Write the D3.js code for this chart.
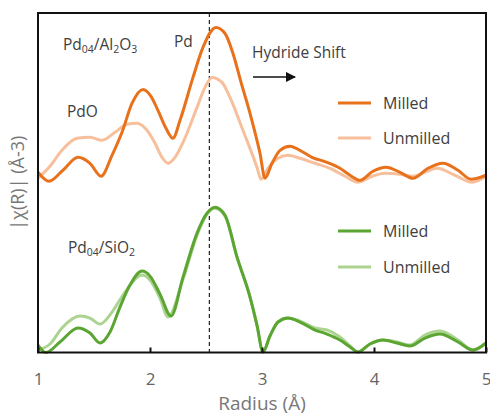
<!DOCTYPE html>
<html><head><meta charset="utf-8">
<script src="https://cdn.jsdelivr.net/npm/d3@7"></script>
<style>body{margin:0;background:#fff}svg{display:block}text{font-family:"Open Sans","Noto Sans",sans-serif}</style>
</head><body>
<svg id="c" width="490" height="415"></svg>
<script>
// Radius (Å) and |χ(R)| (arbitrary units)
const alMilledR = [1.000,1.098,1.223,1.357,1.464,1.563,1.661,1.750,1.839,1.938,2.009,2.071,2.143,2.205,2.268,2.384,2.473,2.589,2.670,2.741,2.813,2.893,2.982,3.027,3.089,3.161,3.250,3.339,3.446,3.580,3.696,3.786,3.875,3.991,4.107,4.232,4.348,4.482,4.616,4.750,4.866,5.000];
const alMilledY = [1.805,1.715,1.825,1.955,1.895,1.765,1.975,2.205,2.495,2.635,2.565,2.425,2.245,2.145,2.325,2.755,3.055,3.255,3.195,2.995,2.705,2.395,1.995,1.745,1.895,2.025,2.065,2.025,1.955,1.905,1.845,1.775,1.725,1.815,1.855,1.805,1.745,1.845,1.895,1.825,1.735,1.775];
const alUnmilledR = [1.000,1.107,1.214,1.348,1.464,1.571,1.688,1.795,1.884,1.973,2.045,2.107,2.161,2.223,2.295,2.420,2.491,2.554,2.643,2.714,2.830,2.955,2.991,3.054,3.143,3.232,3.339,3.473,3.607,3.741,3.857,3.982,4.098,4.232,4.348,4.455,4.562,4.723,4.875,5.000];
const alUnmilledY = [1.745,1.865,2.025,2.145,2.155,2.125,2.205,2.285,2.295,2.225,2.095,1.955,1.895,1.955,2.105,2.455,2.655,2.755,2.705,2.555,2.225,1.855,1.735,1.845,1.945,1.975,1.945,1.895,1.845,1.765,1.705,1.765,1.795,1.785,1.765,1.805,1.845,1.775,1.705,1.765];
const siMilledR = [1.000,1.071,1.196,1.357,1.464,1.554,1.643,1.732,1.821,1.929,2.000,2.089,2.188,2.295,2.420,2.509,2.580,2.670,2.777,2.893,2.955,3.009,3.071,3.143,3.232,3.339,3.473,3.580,3.696,3.786,3.857,3.964,4.080,4.205,4.321,4.455,4.589,4.750,4.884,5.000];
const siMilledY = [0.075,0.000,0.105,0.245,0.195,0.095,0.205,0.455,0.675,0.815,0.765,0.585,0.365,0.755,1.195,1.395,1.455,1.375,0.955,0.555,0.275,0.005,0.165,0.305,0.345,0.305,0.225,0.185,0.125,0.055,0.005,0.085,0.125,0.095,0.065,0.145,0.185,0.105,0.025,0.095];
const siUnmilledR = [1.000,1.107,1.214,1.375,1.464,1.554,1.661,1.777,1.929,2.000,2.089,2.161,2.295,2.420,2.509,2.580,2.670,2.777,2.893,2.955,3.009,3.071,3.143,3.232,3.339,3.473,3.580,3.696,3.786,3.857,3.964,4.080,4.205,4.321,4.455,4.589,4.750,4.884,5.000];
const siUnmilledY = [0.025,0.085,0.245,0.365,0.345,0.285,0.405,0.605,0.775,0.725,0.545,0.355,0.735,1.175,1.385,1.445,1.365,0.955,0.555,0.275,0.005,0.165,0.305,0.345,0.315,0.245,0.225,0.155,0.065,0.005,0.085,0.125,0.105,0.075,0.175,0.215,0.125,0.025,0.095];
const xTicks = [1,2,3,4,5];
const legendLabels = ["Milled","Unmilled"];

const svg = d3.select("#c");
const L=38, R=486, T=13, B=352.5;
const x = d3.scaleLinear().domain([1,5]).range([L,R]);
const y = d3.scaleLinear().domain([0,3.4]).range([B,T]);
const colors = {alM:"#e8711c", alU:"#f7bf9b", siM:"#5ba532", siU:"#acd390"};

// dashed reference line
svg.append("line").attr("x1",x(2.53)).attr("x2",x(2.53)).attr("y1",T).attr("y2",B)
  .attr("stroke","#222").attr("stroke-width",1.2).attr("stroke-dasharray","4,3");

const line = d3.line().x(d=>x(d[0])).y(d=>y(d[1])).curve(d3.curveMonotoneX);
function draw(rs, ys, col){
  svg.append("path").datum(d3.zip(rs,ys)).attr("d",line).attr("fill","none")
    .attr("stroke",col).attr("stroke-width",3).attr("stroke-linejoin","round");
}
draw(alUnmilledR, alUnmilledY, colors.alU);
draw(alMilledR, alMilledY, colors.alM);
draw(siUnmilledR, siUnmilledY, colors.siU);
draw(siMilledR, siMilledY, colors.siM);

// frame
svg.append("rect").attr("x",L).attr("y",T).attr("width",R-L).attr("height",B-T)
  .attr("fill","none").attr("stroke","#111").attr("stroke-width",2);

// x axis
const ax = svg.append("g").attr("transform",`translate(0,${B})`)
  .call(d3.axisBottom(x).tickValues(xTicks).tickFormat(d3.format("d")).tickSizeInner(-5).tickSizeOuter(0).tickPadding(20));
ax.select(".domain").remove();
ax.selectAll("line").attr("stroke","#111").attr("stroke-width",2);
ax.selectAll("text").attr("fill","#666").attr("font-size",17).attr("font-family","Open Sans");

svg.append("text").attr("x",262).attr("y",410).attr("text-anchor","middle")
  .attr("fill","#777").attr("font-size",19).text("Radius (Å)");
svg.append("text").attr("transform",`translate(24,${(T+B)/2}) rotate(-90)`).attr("text-anchor","middle")
  .attr("fill","#777").attr("font-size",18).text("|χ(R)| (Å-3)");

// annotations
function label(xp, yp, parts){
  const t = svg.append("text").attr("x",xp).attr("y",yp).attr("fill","#404040").attr("font-size",15.5);
  parts.forEach(p=>{
    const ts = t.append("tspan").text(p[0]);
    if(p[1]) ts.attr("font-size",10.5).attr("dy",3); else ts.attr("dy", p[2]||0);
  });
}
label(63,50,[["Pd"],["04",1],["/Al",0,-3],["2",1],["O",0,-3],["3",1]]);
label(67,117,[["PdO"]]);
label(174,47,[["Pd"]]);
label(252,58,[["Hydride Shift"]]);
label(68,253,[["Pd"],["04",1],["/SiO",0,-3],["2",1]]);

// arrow
svg.append("defs").append("marker").attr("id","ah").attr("viewBox","0 0 10 10").attr("refX",9).attr("refY",5)
  .attr("markerWidth",7).attr("markerHeight",7).attr("orient","auto")
  .append("path").attr("d","M0,0L10,5L0,10z").attr("fill","#111");
svg.append("line").attr("x1",253).attr("x2",295).attr("y1",77).attr("y2",77)
  .attr("stroke","#111").attr("stroke-width",1.5).attr("marker-end","url(#ah)");

// legends
function legend(yp, col, lab){
  svg.append("line").attr("x1",338).attr("x2",371).attr("y1",yp).attr("y2",yp).attr("stroke",col).attr("stroke-width",3);
  svg.append("text").attr("x",383).attr("y",yp+6).attr("fill","#404040").attr("font-size",16).text(lab);
}
legend(103, colors.alM, legendLabels[0]);
legend(138, colors.alU, legendLabels[1]);
legend(231, colors.siM, legendLabels[0]);
legend(267, colors.siU, legendLabels[1]);
</script>
</body></html>
